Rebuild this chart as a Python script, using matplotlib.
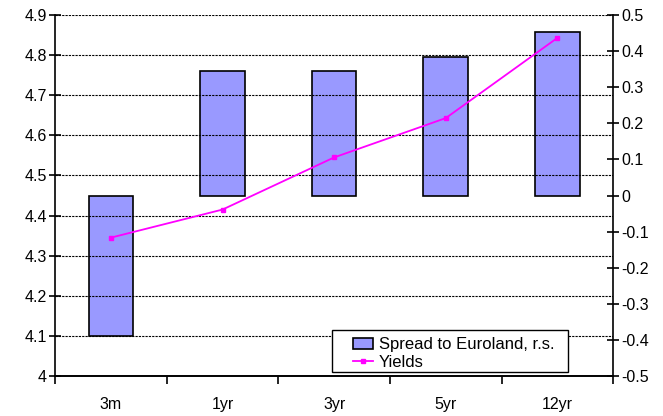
import numpy as np
import matplotlib
matplotlib.use('Agg')
import matplotlib.pyplot as plt
from matplotlib.patches import Rectangle

plt.rcParams['font.family'] = ['Liberation Sans', 'DejaVu Sans']

# data
maturities = ['3m', '1yr', '3yr', '5yr', '12yr']
spread = [-0.39, 0.345, 0.345, 0.383, 0.453]    # right scale
yields = [4.345, 4.415, 4.545, 4.643, 4.843]    # left scale

x = np.arange(len(maturities))

fig = plt.figure(figsize=(6.63, 4.16), dpi=100)
ax = fig.add_axes([0.083, 0.096, 0.842, 0.868])
ax2 = ax.twinx()

# bars on the right axis, kept behind the line
ax.set_zorder(2)
ax.patch.set_visible(False)
bars = ax2.bar(x, spread, width=0.4, color='#9999ff', edgecolor='black',
               linewidth=1.2, label='Spread to Euroland, r.s.')
ln, = ax.plot(x, yields, color='#ff00ff', marker='s', markersize=3.5,
              linewidth=1.3, label='Yields')

ax.set_xlim(-0.5, len(maturities) - 0.5)
ax.set_ylim(4.0, 4.9)
ax.set_yticks(np.arange(4.0, 4.91, 0.1))
ax.set_yticklabels(['4', '4.1', '4.2', '4.3', '4.4', '4.5', '4.6', '4.7', '4.8', '4.9'])
ax2.set_ylim(-0.5, 0.5)
ax2.set_yticks(np.arange(-0.5, 0.51, 0.1))
ax2.set_yticklabels(['-0.5', '-0.4', '-0.3', '-0.2', '-0.1', '0', '0.1', '0.2', '0.3', '0.4', '0.5'])

ax.yaxis.grid(True, color='black', linestyle=(0, (2, 1)), linewidth=0.8)
ax.set_axisbelow(True)

ax.set_xticks(x)
ax.set_xticklabels(maturities)
ax.set_xticks(np.arange(-0.5, len(maturities), 1.0), minor=True)
ax.tick_params(axis='x', which='major', length=0, pad=15, labelsize=11.5)
ax.tick_params(axis='x', which='minor', length=6, width=1.2, direction='out')
ax.tick_params(axis='y', length=8, width=1.2, direction='inout', labelsize=11.5, pad=2)
ax2.tick_params(axis='y', length=8, width=1.2, direction='inout', labelsize=11.5, pad=2)

for a in (ax, ax2):
    a.spines['top'].set_visible(False)
    a.spines['left'].set_linewidth(1.2)
    a.spines['right'].set_linewidth(1.2)
    a.spines['bottom'].set_linewidth(1.2)
ax.spines['right'].set_visible(False)
ax2.spines['left'].set_visible(False)

# legend box (Excel style, wide padding)
ax.add_patch(Rectangle((0.496, 0.011), 0.423, 0.116, transform=ax.transAxes,
                       facecolor='white', edgecolor='black', linewidth=1.0,
                       zorder=4, clip_on=False))
leg = ax.legend([bars, ln], ['Spread to Euroland, r.s.', 'Yields'],
                loc='upper left', bbox_to_anchor=(0.534, 0.107),
                fontsize=12, frameon=False, borderpad=0, labelspacing=0.15,
                handlelength=1.2, handleheight=0.6, handletextpad=0.35,
                borderaxespad=0)
leg.set_zorder(5)

fig.savefig('out.png', dpi=100)
